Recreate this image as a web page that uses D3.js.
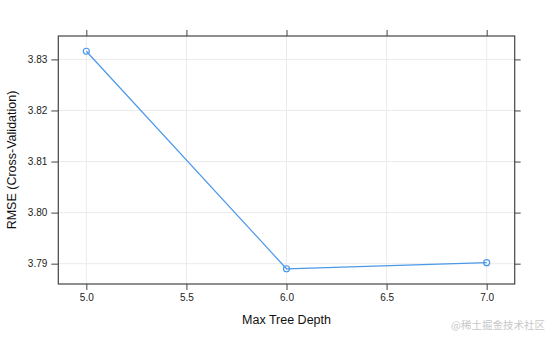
<!DOCTYPE html>
<html>
<head>
<meta charset="utf-8">
<script src="https://cdn.jsdelivr.net/npm/d3@7"></script>
<style>
  html, body { margin: 0; padding: 0; background: #fff; }
  svg { display: block; font-family: "Liberation Sans", Arial, sans-serif; }
</style>
</head>
<body>
<svg id="chart" width="545" height="337"></svg>
<script>
// Tuning results: max tree depth vs cross-validated RMSE
const depths = [5, 6, 7];
const rmse = [3.8316, 3.7890, 3.7902];
const xTicks = [5.0, 5.5, 6.0, 6.5, 7.0];
const yTicks = [3.79, 3.80, 3.81, 3.82, 3.83];

const W = 545, H = 337;
const panel = { left: 58.3, right: 514.7, top: 36, bottom: 284 };

const svg = d3.select("#chart");

// Lattice-style padding: 7% of data range on each side
const xExt = d3.extent(depths), yExt = d3.extent(rmse);
const xPad = (xExt[1] - xExt[0]) * 0.07, yPad = (yExt[1] - yExt[0]) * 0.07;

const x = d3.scaleLinear().domain([xExt[0] - xPad, xExt[1] + xPad]).range([panel.left, panel.right]);
const y = d3.scaleLinear().domain([yExt[0] - yPad, yExt[1] + yPad]).range([panel.bottom, panel.top]);

// Grid
const grid = svg.append("g").attr("stroke", "#ebebeb").attr("stroke-width", 1);
grid.selectAll("line.v").data(xTicks).join("line")
  .attr("x1", d => x(d)).attr("x2", d => x(d))
  .attr("y1", panel.top).attr("y2", panel.bottom);
grid.selectAll("line.h").data(yTicks).join("line")
  .attr("y1", d => y(d)).attr("y2", d => y(d))
  .attr("x1", panel.left).attr("x2", panel.right);

// Axes on all four sides, ticks pointing outward
const tickStyle = g => {
  g.select(".domain").remove();
  g.selectAll(".tick line").attr("stroke", "#444");
  g.selectAll(".tick text").attr("fill", "#222").attr("font-size", 10)
    .attr("font-family", "'Liberation Sans', Arial, sans-serif");
};

svg.append("g").attr("transform", `translate(0,${panel.bottom})`)
  .call(d3.axisBottom(x).tickValues(xTicks).tickFormat(d3.format(".1f")).tickSize(6).tickPadding(4))
  .call(tickStyle);
svg.append("g").attr("transform", `translate(0,${panel.top})`)
  .call(d3.axisTop(x).tickValues(xTicks).tickFormat("").tickSize(6))
  .call(tickStyle);
svg.append("g").attr("transform", `translate(${panel.left},0)`)
  .call(d3.axisLeft(y).tickValues(yTicks).tickFormat(d3.format(".2f")).tickSize(7).tickPadding(4))
  .call(tickStyle);
svg.append("g").attr("transform", `translate(${panel.right},0)`)
  .call(d3.axisRight(y).tickValues(yTicks).tickFormat("").tickSize(6))
  .call(tickStyle);

// Panel border
svg.append("rect")
  .attr("x", panel.left).attr("y", panel.top)
  .attr("width", panel.right - panel.left).attr("height", panel.bottom - panel.top)
  .attr("fill", "none").attr("stroke", "#444").attr("stroke-width", 1.2);

// Series
const pts = depths.map((d, i) => [d, rmse[i]]);
const color = "#4a98e8";
svg.append("path")
  .datum(pts)
  .attr("fill", "none").attr("stroke", color).attr("stroke-width", 1.2)
  .attr("d", d3.line().x(d => x(d[0])).y(d => y(d[1])));
svg.selectAll("circle.pt").data(pts).join("circle")
  .attr("cx", d => x(d[0])).attr("cy", d => y(d[1])).attr("r", 3)
  .attr("fill", "none").attr("stroke", color).attr("stroke-width", 1.2);

// Axis titles
svg.append("text")
  .attr("x", (panel.left + panel.right) / 2).attr("y", 324)
  .attr("text-anchor", "middle").attr("font-size", 12.5).attr("fill", "#111")
  .text("Max Tree Depth");
svg.append("text")
  .attr("transform", `translate(16,${(panel.top + panel.bottom) / 2}) rotate(-90)`)
  .attr("text-anchor", "middle").attr("font-size", 12.5).attr("fill", "#111")
  .text("RMSE (Cross-Validation)");

// Source mark
svg.append("text")
  .attr("x", 545).attr("y", 329)
  .attr("text-anchor", "end").attr("font-size", 10.5).attr("fill", "#c8c8c8")
  .attr("font-family", "'Noto Sans CJK SC', sans-serif")
  .text("@稀土掘金技术社区");
</script>
</body>
</html>
